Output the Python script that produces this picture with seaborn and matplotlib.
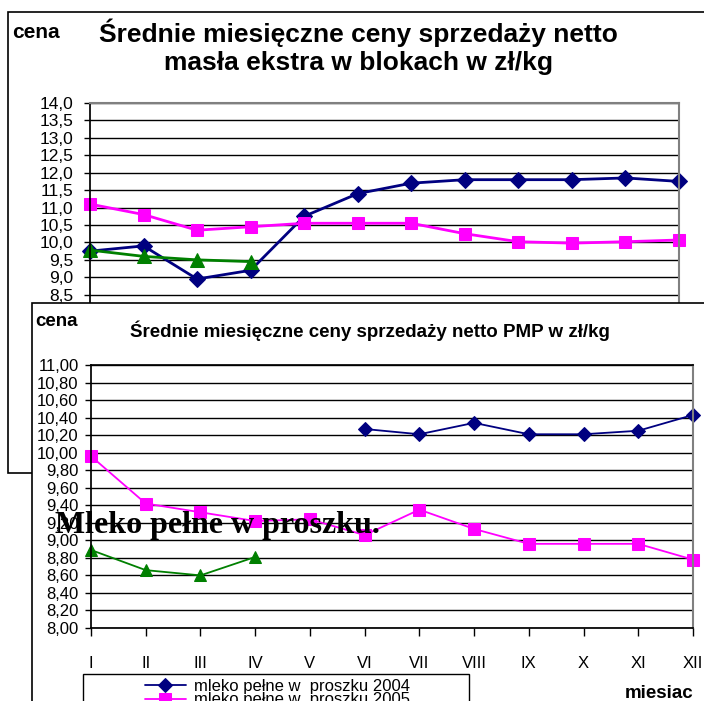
import numpy as np
import matplotlib
matplotlib.use("Agg")
import matplotlib.pyplot as plt
from matplotlib.patches import Rectangle
from matplotlib.ticker import FuncFormatter
import seaborn as sns

# Data
months = ['I', 'II', 'III', 'IV', 'V', 'VI', 'VII', 'VIII', 'IX', 'X', 'XI', 'XII']

# chart 1: masło ekstra w blokach
butter_2004 = [9.75, 9.9, 8.95, 9.2, 10.75, 11.4, 11.7, 11.8, 11.8, 11.8, 11.85, 11.75]
butter_2005 = [11.1, 10.8, 10.35, 10.45, 10.55, 10.55, 10.55, 10.25, 10.02, 9.98, 10.02, 10.07]
butter_2006 = [9.78, 9.6, 9.5, 9.45]

# chart 2: mleko pełne w proszku
powder_2004_months = ['VI', 'VII', 'VIII', 'IX', 'X', 'XI', 'XII']
powder_2004 = [10.27, 10.21, 10.34, 10.21, 10.21, 10.25, 10.43]
powder_2005 = [9.96, 9.42, 9.32, 9.22, 9.24, 9.06, 9.35, 9.13, 8.96, 8.96, 8.96, 8.78]
powder_2006 = [8.89, 8.66, 8.60, 8.81]

labels = ['mleko pełne w  proszku 2004', 'mleko pełne w  proszku 2005',
          'mleko pełne w  proszku 2006']

navy, magenta, green = '#000080', '#FF00FF', '#008000'

sns.set_theme(style="white")
plt.rcParams['font.family'] = ['Liberation Sans', 'DejaVu Sans']
plt.rcParams['text.color'] = 'black'

W, H = 704, 701


def fx(x):
    return x / W


def fy(y):
    return 1 - y / H


fig = plt.figure(figsize=(7.04, 7.01), dpi=100)
month_idx = np.arange(len(months))

# ---- chart 1 (behind) ----
fig.add_artist(Rectangle((fx(8), fy(473)), fx(760) - fx(8), fy(12) - fy(473),
                         transform=fig.transFigure, fc='white', ec='black', lw=1.2, zorder=1))
ax1 = fig.add_axes([fx(90), fy(347), fx(679) - fx(90), fy(103) - fy(347)])
ax1.set_zorder(2)
ax1.patch.set_alpha(0)

sns.lineplot(x=month_idx, y=butter_2004, ax=ax1, color=navy, marker='D', markersize=8,
             markeredgecolor=navy, linewidth=2, clip_on=False)
sns.lineplot(x=month_idx, y=butter_2005, ax=ax1, color=magenta, marker='s', markersize=9,
             markeredgecolor=magenta, linewidth=2, clip_on=False)
sns.lineplot(x=month_idx[:len(butter_2006)], y=butter_2006, ax=ax1, color=green, marker='^',
             markersize=10, markeredgecolor=green, linewidth=2, clip_on=False)

ax1.set_xlim(0, 11)
ax1.set_ylim(7.0, 14.0)
# lower part of this chart is covered by the second one, only grid from 8,5 up shows
ax1.set_yticks(np.arange(8.5, 14.01, 0.5))
ax1.yaxis.set_major_formatter(FuncFormatter(lambda v, p: f'{v:.1f}'.replace('.', ',')))
ax1.set_xticks(month_idx, [''] * len(months))
ax1.set_axisbelow(True)
ax1.yaxis.grid(True, color='black', lw=1)
ax1.tick_params(axis='y', left=True, length=4, width=1, color='black', pad=8,
                labelsize=12.5, labelcolor='black')
for side in ['left', 'bottom']:
    ax1.spines[side].set_color('black')
for side in ['top', 'right']:
    ax1.spines[side].set_color('#808080')
    ax1.spines[side].set_linewidth(1.5)
ax1.set_xlabel('')
ax1.set_ylabel('')

fig.text(fx(12), fy(33), 'cena', fontsize=15, fontweight='bold', va='center', ha='left', zorder=2.5)
fig.text(fx(358), fy(33), 'Średnie miesięczne ceny sprzedaży netto', fontsize=19,
         fontweight='bold', ha='center', va='center', zorder=2.5)
fig.text(fx(358), fy(63), 'masła ekstra w blokach w zł/kg', fontsize=19,
         fontweight='bold', ha='center', va='center', zorder=2.5)

# ---- chart 2 (in front) ----
fig.add_artist(Rectangle((fx(32), fy(760)), fx(760) - fx(32), fy(303) - fy(760),
                         transform=fig.transFigure, fc='white', ec='black', lw=1.2, zorder=3))
ax2 = fig.add_axes([fx(91), fy(628), fx(693) - fx(91), fy(365) - fy(628)])
ax2.set_zorder(4)
ax2.patch.set_alpha(0)

sns.lineplot(x=[months.index(m) for m in powder_2004_months], y=powder_2004, ax=ax2,
             color=navy, marker='D', markersize=7.5, markeredgecolor=navy, linewidth=1.3,
             clip_on=False, label=labels[0])
sns.lineplot(x=month_idx, y=powder_2005, ax=ax2, color=magenta, marker='s', markersize=8,
             markeredgecolor=magenta, linewidth=1.3, clip_on=False, label=labels[1])
sns.lineplot(x=month_idx[:len(powder_2006)], y=powder_2006, ax=ax2, color=green, marker='^',
             markersize=9, markeredgecolor=green, linewidth=1.3, clip_on=False, label=labels[2])

ax2.set_xlim(0, 11)
ax2.set_ylim(8.0, 11.0)
ax2.set_yticks(np.arange(8.0, 11.001, 0.2))
ax2.yaxis.set_major_formatter(FuncFormatter(lambda v, p: f'{v:.2f}'.replace('.', ',')))
ax2.set_xticks(month_idx, months)
ax2.set_axisbelow(True)
ax2.yaxis.grid(True, color='black', lw=1)
ax2.tick_params(axis='y', left=True, length=4, width=1, color='black', pad=5,
                labelsize=12, labelcolor='black')
ax2.tick_params(axis='x', bottom=True, length=6, width=1, color='black', pad=14,
                labelsize=12, labelcolor='black')
for side in ['left', 'bottom', 'top']:
    ax2.spines[side].set_color('black')
ax2.spines['right'].set_color('#808080')
ax2.spines['right'].set_linewidth(1.5)
ax2.set_xlabel('')
ax2.set_ylabel('')

handles, labs = ax2.get_legend_handles_labels()
ax2.get_legend().remove()

fig.text(fx(35), fy(321), 'cena', fontsize=13.5, fontweight='bold', va='center', ha='left', zorder=5)
fig.text(fx(370), fy(331), 'Średnie miesięczne ceny sprzedaży netto PMP w zł/kg', fontsize=13.5,
         fontweight='bold', ha='center', va='center', zorder=5)
fig.text(fx(625), fy(693), 'miesiac', fontsize=13.5, fontweight='bold', ha='left', va='center', zorder=5)

# legend box, cut by the bottom edge
fig.add_artist(Rectangle((fx(83), fy(760)), fx(469) - fx(83), fy(674) - fy(760),
                         transform=fig.transFigure, fc='white', ec='black', lw=1, zorder=5))
leg = fig.legend(handles, labs, loc='upper left', bbox_to_anchor=(fx(145), fy(679)),
                 bbox_transform=fig.transFigure, frameon=False, borderpad=0, borderaxespad=0,
                 handlelength=2.45, handletextpad=0.5, labelspacing=-0.1, fontsize=12)
leg.set_zorder(6)

# overlaid caption
fig.text(fx(55), fy(533), 'Mleko pełne w proszku.', fontsize=23, fontweight='bold',
         family=['Liberation Serif', 'DejaVu Serif'], ha='left', va='baseline', zorder=7)

fig.savefig('out.png', dpi=100)
